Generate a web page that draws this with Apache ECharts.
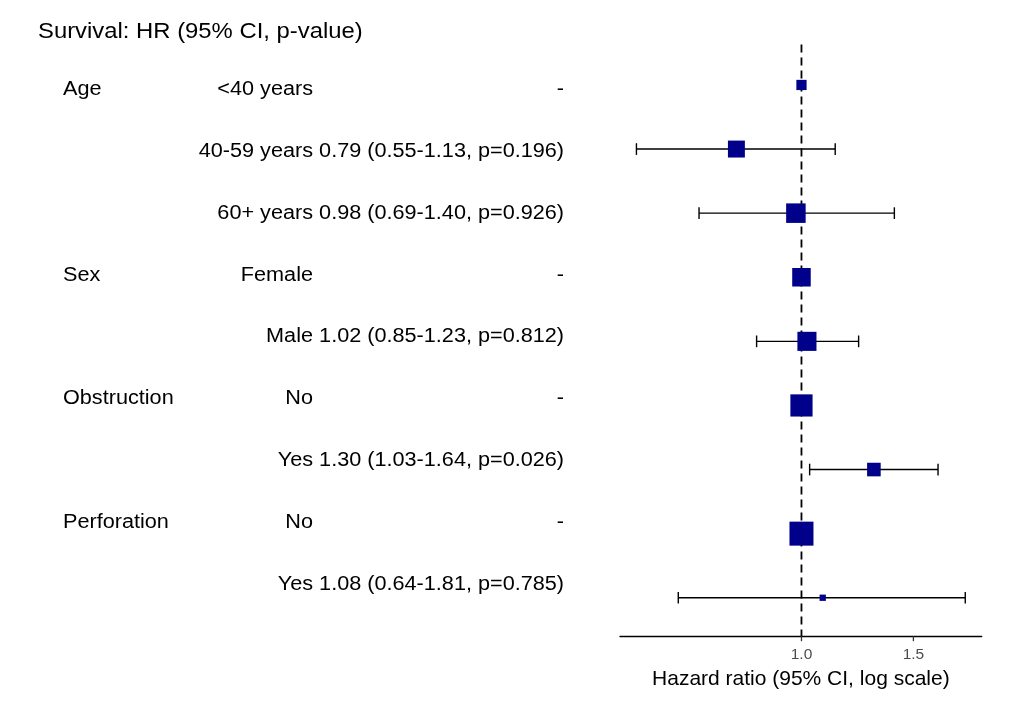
<!DOCTYPE html>
<html>
<head>
<meta charset="utf-8">
<script src="https://cdn.jsdelivr.net/npm/echarts@6/dist/echarts.min.js"></script>
<style>
  html, body { margin: 0; padding: 0; background: #fff; }
  #chart { width: 1029px; height: 725px; }
</style>
</head>
<body>
<div id="chart"></div>
<script>
// ---- Data ----
const titleText = 'Survival: HR (95% CI, p-value)';
const variables = ['Age', '', '', 'Sex', '', 'Obstruction', '', 'Perforation', ''];
const levels = ['<40 years', '40-59 years', '60+ years', 'Female', 'Male', 'No', 'Yes', 'No', 'Yes'];
const hrText = ['-', '0.79 (0.55-1.13, p=0.196)', '0.98 (0.69-1.40, p=0.926)', '-',
                '1.02 (0.85-1.23, p=0.812)', '-', '1.30 (1.03-1.64, p=0.026)', '-',
                '1.08 (0.64-1.81, p=0.785)'];
const hr = [1.00, 0.79, 0.98, 1.00, 1.02, 1.00, 1.30, 1.00, 1.08];
const lower = [null, 0.55, 0.69, null, 0.85, null, 1.03, null, 0.64];
const upper = [null, 1.13, 1.40, null, 1.23, null, 1.64, null, 1.81];
const totals = [70, 344, 515, 445, 484, 732, 176, 902, 27];
const tickValues = [1.0, 1.5];
const refValue = [1.0];
const xAxisName = 'Hazard ratio (95% CI, log scale)';

// ---- Derived scales ----
const FONT = '"Liberation Sans", Arial, sans-serif';
const lnLo = Math.min(...lower.filter(v => v != null).map(Math.log));
const lnHi = Math.max(...upper.filter(v => v != null).map(Math.log));
const pad = (lnHi - lnLo) * 0.05;
const xMin = lnLo - pad, xMax = lnHi + pad;
const yMin = 0.4, yMax = levels.length + 0.6;
const nMin = Math.min(...totals), nMax = Math.max(...totals);
const sizeMinPx = 6.3, sizeMaxPx = 24;
function sizeScale(n) {
  return sizeMinPx + (sizeMaxPx - sizeMinPx) * Math.sqrt((n - nMin) / (nMax - nMin));
}

const pointData = hr.map((v, i) => [Math.log(v), i + 1, totals[i]]);
const ciData = [];
hr.forEach((v, i) => {
  if (lower[i] != null) ciData.push([Math.log(lower[i]), Math.log(upper[i]), i + 1]);
});
const tableData = levels.map((l, i) => [0, i + 1]);

const chart = echarts.init(document.getElementById('chart'), null, { renderer: 'canvas' });

const option = {
  animation: false,
  backgroundColor: '#ffffff',
  textStyle: { fontFamily: FONT },
  graphic: [{
    type: 'text', x: 38, y: 32, scaleX: 1.06,
    style: { text: titleText, fontFamily: FONT, fontSize: 22.5, fill: '#000',
             align: 'left', verticalAlign: 'middle' }
  }],
  grid: [
    { left: 620, right: 47.3, top: 46.5, bottom: 88.8 },
    { left: 0, right: 0, top: 52.7, bottom: 103.7 }
  ],
  xAxis: [
    {
      gridIndex: 0, type: 'value', min: xMin, max: xMax,
      name: xAxisName, nameLocation: 'middle', nameGap: 33,
      nameTextStyle: { color: '#000', fontSize: 21, fontFamily: FONT },
      axisLine: { show: true, lineStyle: { color: '#000', width: 1.3 } },
      axisTick: { show: false },
      axisLabel: { show: true, color: '#4D4D4D', fontSize: 15.5, margin: 11, fontFamily: FONT,
                   customValues: tickValues.map(Math.log),
                   formatter: v => Math.exp(v).toFixed(1) },
      splitLine: { show: false }
    },
    { gridIndex: 1, type: 'value', min: 0, max: 1, show: false }
  ],
  yAxis: [
    { gridIndex: 0, type: 'value', min: yMin, max: yMax, inverse: true, show: false },
    { gridIndex: 1, type: 'value', min: yMin, max: yMax, inverse: true, show: false }
  ],
  series: [
    {
      // dashed reference line at HR = 1
      type: 'custom', name: 'ref', xAxisIndex: 0, yAxisIndex: 0, z: 1,
      data: refValue.map(v => [Math.log(v)]),
      renderItem: function (params, api) {
        const t = api.coord([api.value(0), yMin]);
        const b = api.coord([api.value(0), yMax]);
        return { type: 'line', shape: { x1: t[0], y1: t[1] - 2, x2: b[0], y2: b[1] },
                 style: { stroke: '#000', lineWidth: 1.8, lineDash: [8, 5] } };
      }
    },
    {
      // axis ticks at the labelled values
      type: 'custom', name: 'ticks', xAxisIndex: 0, yAxisIndex: 0, z: 1,
      data: tickValues.map(v => [Math.log(v)]),
      renderItem: function (params, api) {
        const b = api.coord([api.value(0), yMax]);
        return { type: 'line', shape: { x1: b[0], y1: b[1], x2: b[0], y2: b[1] + 5 },
                 style: { stroke: '#333', lineWidth: 1.3 } };
      }
    },
    {
      type: 'custom', name: 'ci', xAxisIndex: 0, yAxisIndex: 0, z: 2,
      data: ciData,
      renderItem: function (params, api) {
        const row = api.value(2);
        const p1 = api.coord([api.value(0), row]);
        const p2 = api.coord([api.value(1), row]);
        const h = 5.85;
        const st = { stroke: '#000', lineWidth: 1.4 };
        return {
          type: 'group',
          children: [
            { type: 'line', shape: { x1: p1[0], y1: p1[1], x2: p2[0], y2: p2[1] }, style: st },
            { type: 'line', shape: { x1: p1[0], y1: p1[1] - h, x2: p1[0], y2: p1[1] + h }, style: st },
            { type: 'line', shape: { x1: p2[0], y1: p2[1] - h, x2: p2[0], y2: p2[1] + h }, style: st }
          ]
        };
      }
    },
    {
      type: 'scatter', name: 'hr', xAxisIndex: 0, yAxisIndex: 0, z: 10,
      symbol: 'rect',
      symbolSize: function (val) { return sizeScale(val[2]); },
      itemStyle: { color: '#00008B', opacity: 1 },
      data: pointData
    },
    {
      type: 'custom', name: 'table', xAxisIndex: 1, yAxisIndex: 1, z: 5,
      data: tableData,
      renderItem: function (params, api) {
        const i = params.dataIndex;
        const y = api.coord([0, api.value(1)])[1];
        const mk = (text, x, align) => ({
          type: 'text', x: x, y: y, scaleX: 1.11,
          style: { text: text, fontFamily: FONT, fontSize: 19.5, fill: '#000',
                   align: align, verticalAlign: 'middle' }
        });
        return {
          type: 'group',
          children: [
            mk(variables[i], 63, 'left'),
            mk(levels[i], 313, 'right'),
            mk(hrText[i], 564, 'right')
          ]
        };
      }
    }
  ]
};

chart.setOption(option);
</script>
</body>
</html>
